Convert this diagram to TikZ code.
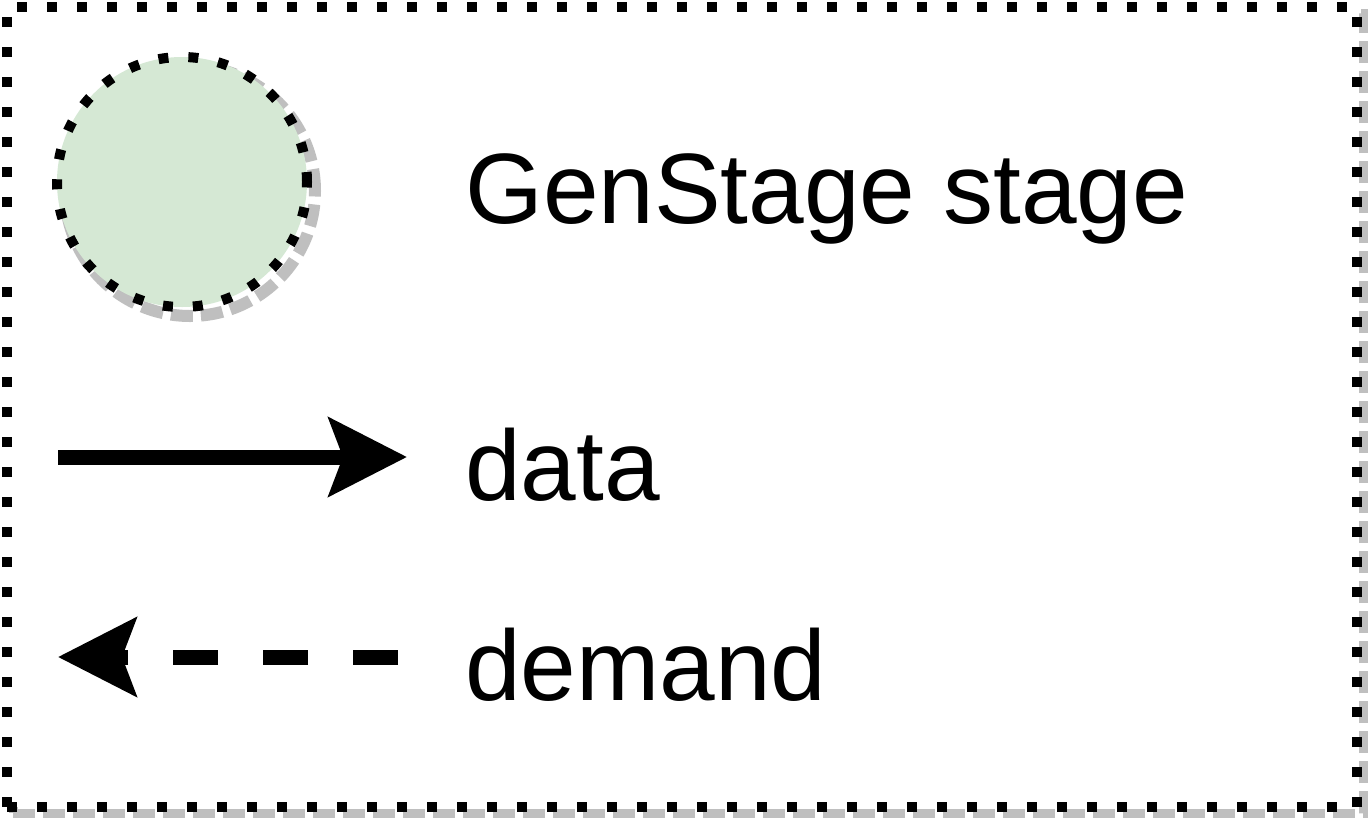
\documentclass[tikz,border=0pt]{standalone}
\usepackage{fontspec}
\setmainfont{Liberation Sans}
\usetikzlibrary{positioning,arrows.meta,calc}
\definecolor{stagegreen}{HTML}{D5E8D4}

\begin{document}
\begin{tikzpicture}[
  x=1pt, y=-1pt,
  frame/.style={draw=black, fill=white, line width=10pt, dash pattern=on 10pt off 20pt, minimum width=1350pt, minimum height=800pt, inner sep=0pt},
  shade/.style={draw=black!25, line width=12pt, dash pattern=on 22pt off 8pt, inner sep=0pt},
  stagec/.style={circle, draw=black, fill=stagegreen, line width=10pt, dash pattern=on 10pt off 20pt, minimum size=250pt, inner sep=0pt},
  lbl/.style={anchor=base west, inner sep=0pt, font=\fontsize{100}{112}\selectfont},
  arr/.style={-{Stealth[length=78pt, width=78pt, inset=14pt]}, line width=15pt},
  dem/.style={arr, dash pattern=on 45pt off 45pt}
]
\useasboundingbox (0,0) rectangle (1370,825);
% legend frame with its shadow
\node[shade, line width=9pt, minimum width=1350pt, minimum height=800pt] (frameshadow) at (688,413) {};
\node[frame] (legend) at (682,407) {};
% stage symbol
\node[shade, circle, minimum size=250pt] (stageshadow) at (190,191) {};
\node[stagec] (stage) at (182,182) {};
\node[lbl] (stagetext) at (465,223) {GenStage stage};
% data and demand arrows
\coordinate (d1) at (58,457);
\coordinate (d2) at (407,457);
\node[lbl] (datatext) at (465,500) {data};
\draw[arr] (d1) -- (d2);
\coordinate (m1) at (398,657);
\coordinate (m2) at (58,657);
\node[lbl] (demandtext) at (465,700) {demand};
\draw[dem] (m1) -- (m2);
\end{tikzpicture}
\end{document}
